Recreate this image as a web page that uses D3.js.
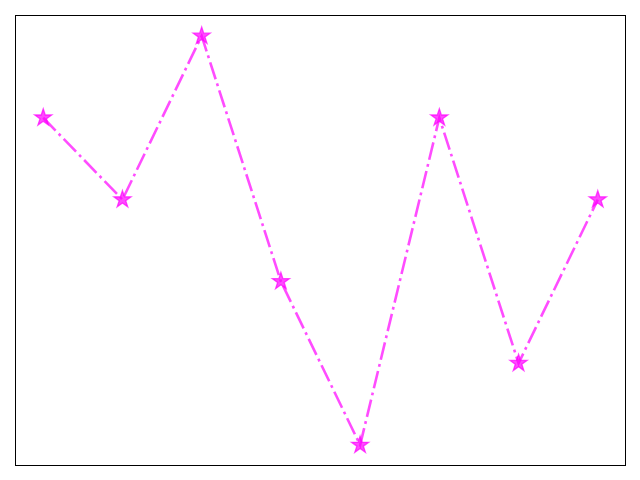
<!DOCTYPE html>
<html><head><meta charset="utf-8">
<script src="https://cdn.jsdelivr.net/npm/d3@7"></script>
<style>body{margin:0;background:#fff}</style>
</head><body>
<script>
const xValues = [0,1,2,3,4,5,6,7];
const yValues = [5,4,6,3,1,5,2,4];

const W=640,H=480, L=15.5,R=625.5,T=15.5,B=465.5;
const svg=d3.select("body").append("svg").attr("width",W).attr("height",H);
const x=d3.scaleLinear().domain([-0.35,7.35]).range([L,R]);
const y=d3.scaleLinear().domain([0.75,6.25]).range([B,T]);
const data=xValues.map((v,i)=>[v,yValues[i]]);
const line=d3.line().x(d=>x(d[0])).y(d=>y(d[1]));
svg.append("path").datum(data).attr("d",line).attr("fill","none")
 .attr("stroke","magenta").attr("stroke-opacity",0.7).attr("stroke-width",2.6)
 .attr("stroke-dasharray","17.8,4.4,2.8,4.4");
const star=d3.symbol().type(d3.symbolStar).size(90);
svg.selectAll(".m").data(data).enter().append("path")
 .attr("d",star).attr("transform",d=>`translate(${x(d[0])},${y(d[1])})`)
 .attr("fill","magenta").attr("fill-opacity",0.7)
 .attr("stroke","magenta").attr("stroke-opacity",0.7).attr("stroke-width",1.3);
svg.append("rect").attr("x",L).attr("y",T).attr("width",R-L).attr("height",B-T)
 .attr("fill","none").attr("stroke","#000").attr("stroke-width",1);
</script>
</body></html>
